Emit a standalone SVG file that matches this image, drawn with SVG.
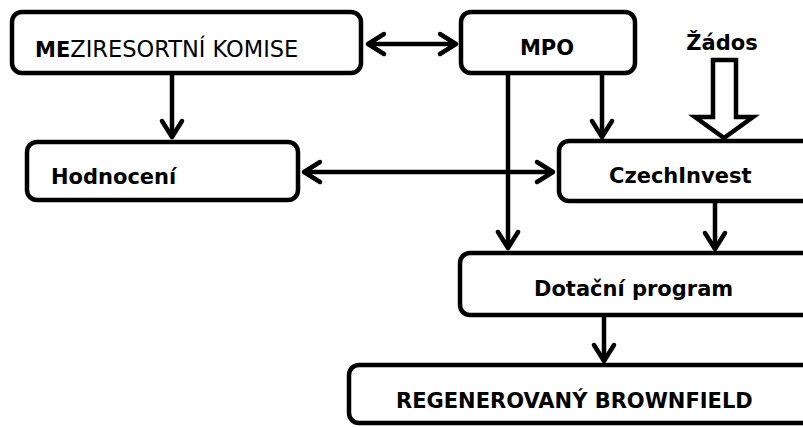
<svg xmlns="http://www.w3.org/2000/svg" width="803" height="427" viewBox="0 0 803 427">
<style>
.box{fill:#fff;stroke:#000;stroke-width:4.5}
.t{font-family:"DejaVu Sans",Verdana,sans-serif;font-size:21px;fill:#000}
.b{font-weight:bold}
.c{fill:none;stroke:#000;stroke-width:4.5}
</style>
<defs>
<marker id="arr" viewBox="-20 -12 24 24" refX="0" refY="0" markerWidth="24" markerHeight="24" markerUnits="userSpaceOnUse" orient="auto-start-reverse" overflow="visible">
<path d="M-16,-10 L0,0 L-16,10" fill="none" stroke="#000" stroke-width="4.5" stroke-linecap="round" stroke-linejoin="round"/>
</marker>
</defs>
<rect width="803" height="427" fill="#fff"/>
<g id="connectors">
<line class="c" x1="172" y1="75" x2="172" y2="137" marker-end="url(#arr)"/>
<line class="c" x1="368" y1="44" x2="456" y2="44" marker-start="url(#arr)" marker-end="url(#arr)"/>
<line class="c" x1="304" y1="172" x2="553" y2="172" marker-start="url(#arr)" marker-end="url(#arr)"/>
<line class="c" x1="508" y1="75" x2="508" y2="248" marker-end="url(#arr)"/>
<line class="c" x1="602" y1="75" x2="602" y2="137" marker-end="url(#arr)"/>
<line class="c" x1="715" y1="203" x2="715" y2="249" marker-end="url(#arr)"/>
<line class="c" x1="604" y1="317" x2="604" y2="361" marker-end="url(#arr)"/>
<polygon class="c" points="713,60 736,60 736,117 753,117 724,138 695,117 713,117" stroke-linejoin="miter"/>
</g>
<g id="meziresortni">
<rect class="box" x="12" y="12" width="349" height="61" rx="10"/>
<text class="t" x="35" y="56.5"><tspan class="b">ME</tspan><tspan style="font-size:22.5px">ZIRESORTNÍ KOMISE</tspan></text>
</g>
<g id="mpo">
<rect class="box" x="461" y="12" width="174" height="61" rx="10"/>
<text class="t b" x="547" y="55" text-anchor="middle">MPO</text>
</g>
<g id="zados">
<text class="t b" x="722" y="50" text-anchor="middle">Žádos</text>
</g>
<g id="hodnoceni">
<rect class="box" x="27" y="142" width="271" height="58" rx="10"/>
<text class="t b" x="51" y="184">Hodnocení</text>
</g>
<g id="czechinvest">
<rect class="box" x="559" y="141" width="270" height="60" rx="10"/>
<text class="t b" x="609" y="183">CzechInvest</text>
</g>
<g id="dotacni">
<rect class="box" x="460" y="253" width="370" height="62" rx="10"/>
<text class="t b" x="534" y="296">Dotační program</text>
</g>
<g id="regenerovany">
<rect class="box" x="349" y="365" width="480" height="58" rx="10"/>
<text class="t b" x="396" y="408">REGENEROVANÝ BROWNFIELD</text>
</g>
</svg>
